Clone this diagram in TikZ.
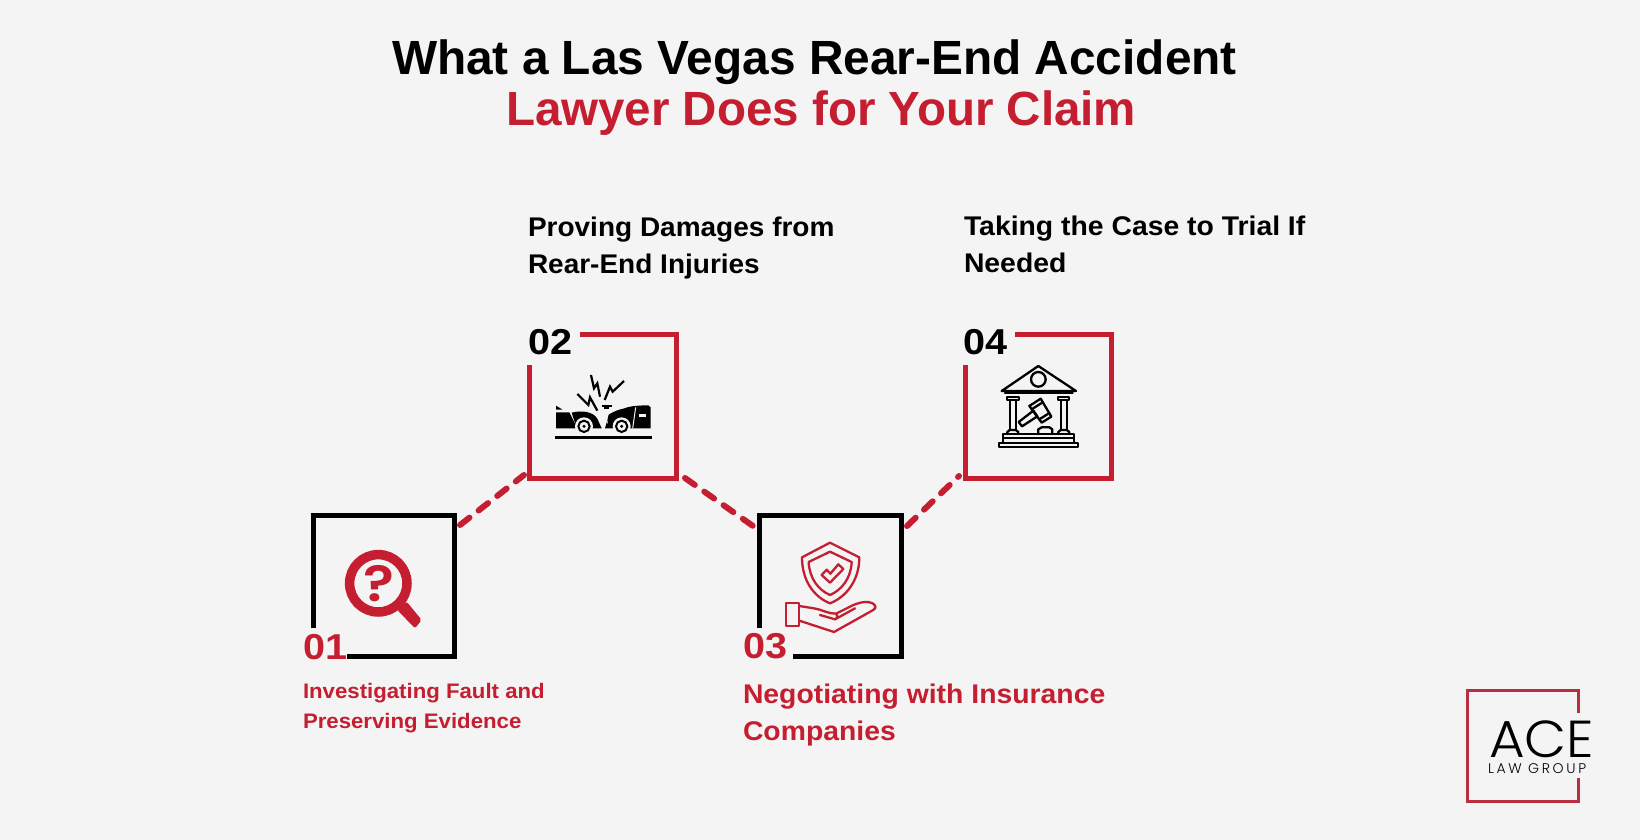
\documentclass[tikz,border=0pt]{standalone}
\usepackage{fontspec}
\setmainfont{Liberation Sans}
\newfontfamily\lgfont{Poppins Light}
\newfontfamily\qfont{Poppins SemiBold}
\usetikzlibrary{calc}
\definecolor{acered}{HTML}{C41E30}
\definecolor{acebg}{HTML}{F4F4F4}
\definecolor{logored}{HTML}{B8303F}
\tikzset{
  lbl/.style={inner sep=0pt,outer sep=0pt,anchor=base west,align=left},
  titlefont/.style={font=\bfseries\fontsize{48}{50}\selectfont\addfontfeature{FakeStretch=#1}},
  numfont/.style={font=\bfseries\fontsize{36}{36}\selectfont\addfontfeature{FakeStretch=1.10}},
  bodyfont/.style={font=\bfseries\fontsize{27}{36.5}\selectfont\addfontfeature{FakeStretch=#1}},
  smallfont/.style={font=\bfseries\fontsize{21}{30}\selectfont\addfontfeature{FakeStretch=1.057}},
  frame/.style={line width=5.5pt,miter limit=10},
  link/.style={line width=6pt,acered,dash pattern=on 12pt off 11.6pt,line cap=round},
  thin icon/.style={line width=2.3pt,line join=round,line cap=round},
  zoomed/.style={x=0.33333pt,y=-0.33333pt}
}
\begin{document}
\begin{tikzpicture}[x=1pt,y=-1pt]
\useasboundingbox (0,0) rectangle (1640,840);
\fill[acebg] (0,0) rectangle (1640,840);

% Title
\node[lbl,titlefont=0.996,text=black] (t1) at (392,75) {What a Las Vegas Rear-End Accident};
\node[lbl,titlefont=0.99,text=acered] (t2) at (506,125) {Lawyer Does for Your Claim};

% Invisible box anchors
\node[minimum width=146pt,minimum height=146pt,inner sep=0pt,outer sep=0pt] (b1) at (384,586) {};
\node[minimum width=152pt,minimum height=149pt,inner sep=0pt,outer sep=0pt] (b2) at (603,406.5) {};
\node[minimum width=147pt,minimum height=146pt,inner sep=0pt,outer sep=0pt] (b3) at (830.5,586) {};
\node[minimum width=151pt,minimum height=149pt,inner sep=0pt,outer sep=0pt] (b4) at (1038.5,406.5) {};

% Frames
\draw[frame,black] (313.7,628) -- (313.7,515.7) -- (454.3,515.7) -- (454.3,656.3) -- (347,656.3);
\draw[frame,acered] (580,334.7) -- (676.3,334.7) -- (676.3,478.3) -- (529.7,478.3) -- (529.7,365);
\draw[frame,black] (759.7,628) -- (759.7,515.7) -- (901.3,515.7) -- (901.3,656.3) -- (793,656.3);
\draw[frame,acered] (1015,334.7) -- (1111.3,334.7) -- (1111.3,478.3) -- (965.7,478.3) -- (965.7,365);

% Connectors
\draw[link] ([shift={(3,12)}]b1.north east) -- ([shift={(-3,-6)}]b2.south west);
\draw[link] ([shift={(6,-3)}]b2.south east) -- ([shift={(-4,13)}]b3.north west);
\draw[link] ([shift={(3,13)}]b3.north east) -- ([shift={(-4,-5)}]b4.south west);

% Numbers
\node[lbl,numfont,text=acered] (n1) at (303,659) {01};
\node[lbl,numfont,text=black] (n2) at (528,354) {02};
\node[lbl,numfont,text=acered] (n3) at (743,658) {03};
\node[lbl,numfont,text=black] (n4) at (963,354) {04};

% Labels
\node[lbl,smallfont,text=acered] (l1) at (303,728) {Investigating Fault and\\Preserving Evidence};
\node[lbl,bodyfont=1.037,text=black] (l2) at (528,273) {Proving Damages from\\Rear-End Injuries};
\node[lbl,bodyfont=1.05,text=acered] (l3) at (743,740) {Negotiating with Insurance\\Companies};
\node[lbl,bodyfont=1.05,text=black] (l4) at (964,272) {Taking the Case to Trial If\\Needed};

% Magnifier icon
\draw[acered,line width=9.5pt] (378.3,583.3) circle (28.7pt);
\fill[acered,rounded corners=2pt] (397.3,610) -- (406.7,601.7) -- (421.7,620) -- (415,628.3) -- cycle;
\node[inner sep=0pt,anchor=base,text=acered,font=\qfont\fontsize{50}{50}\selectfont\addfontfeature{FakeStretch=1.15}] (q) at (379,601.5) {?};

% Crash icon
\begin{scope}[shift={(520,320)},zoomed]
\draw[line width=2.4pt] (104,352) -- (396,352);
\fill (108,257) -- (128,269) -- (108,269) -- cycle;
\fill (108,277) -- (148,277) -- (172,325) -- (108,325) -- cycle;
\fill (155,278) .. controls (185,270) and (220,275) .. (232,296) -- (245,325) -- (170,325) -- cycle;
\fill (255,325) -- (262,300) -- (266,284) .. controls (285,272) and (300,268) .. (310,266) .. controls (325,260) and (345,256) .. (385,256) -- (392,262) -- (392,325) -- cycle;
\fill[acebg] (192,319) circle (27);
\fill[acebg] (305,319) circle (27);
\fill[acebg] (358,282) rectangle (379,292);
\draw[acebg,line width=1pt] (347,262) -- (338,325);
\draw[acebg,line width=1pt] (258,288) -- (262,310);
\foreach \cx in {192,305}{
  \draw[line width=2pt] (\cx,319) circle (17);
  \fill (\cx,319) circle (5);
}
\draw[line width=2.2pt,line join=miter] (213,165) -- (222,205) -- (232,190) -- (240,230);
\draw[line width=2.2pt,line join=miter] (254,240) -- (270,200) -- (278,215) -- (312,183);
\draw[line width=2.2pt,line join=miter] (172,222) -- (205,255) -- (210,232) -- (232,272);
\draw[line width=2.2pt] (245,258) -- (275,258);
\fill (252,258) rectangle (268,268);
\end{scope}

% Shield and hand icon
\begin{scope}[shift={(740,500)},zoomed,acered,thin icon]
\draw (270,128) -- (358,172) .. controls (358,240) and (320,290) .. (270,310) .. controls (220,290) and (186,240) .. (186,172) -- cycle;
\draw (270,155) -- (335,186) .. controls (333,235) and (305,270) .. (270,285) .. controls (235,270) and (208,235) .. (206,186) -- cycle;
\draw (245,225) -- (260,209) -- (271,221) -- (295,193) -- (310,207) -- (270,248) -- cycle;
\draw (137,310) rectangle (178,378);
\draw (178,318) -- (222,325) .. controls (245,328) and (265,342) .. (288,341) -- (340,315) .. controls (365,305) and (385,303) .. (398,310) .. controls (410,318) and (408,325) .. (398,331) -- (282,396) -- (178,362);
\draw (240,345) -- (285,358) -- (345,325);
\draw (288,341) .. controls (295,345) and (294,353) .. (285,358);
\end{scope}

% Courthouse icon
\begin{scope}[shift={(950,320)},zoomed,black,thin icon]
\draw (155,213) -- (265,138) -- (378,213) -- cycle;
\draw (265,178) circle (22);
\draw (165,218) -- (368,218);
\draw (172,232) rectangle (206,241);
\draw (179,241) -- (179,330) (197,241) -- (197,330);
\draw (172,342) -- (172,336) -- (179,330) -- (197,330) -- (205,336) -- (205,342);
\draw (324,232) rectangle (358,241);
\draw (332,241) -- (332,330) (350,241) -- (350,330);
\draw (325,342) -- (325,336) -- (332,330) -- (350,330) -- (358,336) -- (358,342);
\draw (160,355) -- (160,343) -- (372,343) -- (372,355) -- cycle;
\draw (148,368) -- (385,368) -- (385,381) -- (148,381) -- cycle;
\draw (160,355) -- (160,368) (372,355) -- (372,368);
\draw (265,342) -- (265,328) -- (275,322) -- (298,322) -- (307,328) -- (307,342);
\draw (206,306) -- (250,272) -- (262,289) -- (216,319) -- cycle;
\draw (238,258) -- (272,236) -- (304,290) -- (275,308) -- cycle;
\draw (245,268) -- (278,247) (268,298) -- (298,279);
\end{scope}

% Logo
\draw[logored,line width=2.6pt] (1578.5,713) -- (1578.5,690.3) -- (1467.3,690.3) -- (1467.3,801.7) -- (1578.5,801.7) -- (1578.5,778);
\node[lbl,text=black,font={\lgfont\fontsize{52}{52}\selectfont\addfontfeature{FakeStretch=1.05}}] (ace) at (1489,757) {ACE};
\node[lbl,text=black,font={\lgfont\fontsize{14}{14}\selectfont\addfontfeature{LetterSpace=19}}] (lg) at (1488,773) {LAW GROUP};
\end{tikzpicture}
\end{document}
